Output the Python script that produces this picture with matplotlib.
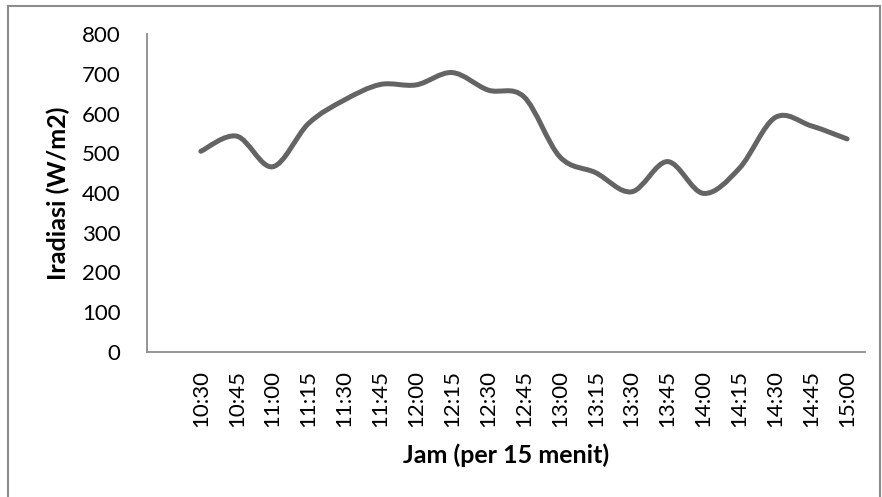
import numpy as np
import matplotlib
matplotlib.use('Agg')
import matplotlib.pyplot as plt
from matplotlib.path import Path
from matplotlib.patches import PathPatch
from matplotlib.lines import Line2D

jam = ['10:30', '10:45', '11:00', '11:15', '11:30', '11:45', '12:00',
       '12:15', '12:30', '12:45', '13:00', '13:15', '13:30', '13:45',
       '14:00', '14:15', '14:30', '14:45', '15:00']
iradiasi = [505, 543, 466, 575, 634, 673, 672, 703, 659, 642, 491,
            451, 403, 479, 399, 462, 590, 569, 536]


def smooth_path(x, y):
    # bezier smoothing like excel's "smoothed line"
    p = np.column_stack([x, y]).astype(float)
    pp = np.vstack([p[0], p, p[-1]])
    verts = [p[0]]
    codes = [Path.MOVETO]
    for i in range(len(p) - 1):
        c1 = pp[i + 1] + (pp[i + 2] - pp[i]) / 6
        c2 = pp[i + 2] - (pp[i + 3] - pp[i + 1]) / 6
        verts += [c1, c2, pp[i + 2]]
        codes += [Path.CURVE4] * 3
    return Path(verts, codes)


if __name__ == "__main__":
    plt.rcParams['font.family'] = 'Lato'
    gray = '#8c8c8c'

    fig = plt.figure(figsize=(8.82, 4.97), dpi=100)
    ax = fig.add_axes([147/882, 145/497, 718/882, 318/497])

    x = np.arange(1, len(jam) + 1)
    ax.add_patch(PathPatch(smooth_path(x, iradiasi), fill=False,
                           edgecolor='#646464', lw=3.6,
                           capstyle='round', joinstyle='round'))

    ax.set_xlim(-0.5, len(jam) + 0.5)
    ax.set_ylim(0, 800)
    ax.set_yticks(np.arange(0, 801, 100))
    ax.set_xticks(x)
    ax.set_xticklabels(jam, rotation=90)
    ax.tick_params(length=0, labelsize=16, colors='black')
    ax.tick_params(axis='y', pad=19)
    ax.tick_params(axis='x', pad=13)
    for s in ['top', 'right']:
        ax.spines[s].set_visible(False)
    for s in ['left', 'bottom']:
        ax.spines[s].set_color(gray)
        ax.spines[s].set_linewidth(1.3)

    ax.set_ylabel('Iradiasi (W/m2)', fontsize=18, fontweight='bold', va='center')
    ax.set_xlabel('Jam (per 15 menit)', fontsize=18, fontweight='bold', va='center')
    ax.yaxis.set_label_coords(-89/718, 0.5)
    ax.xaxis.set_label_coords(0.5, -103/318)

    # border of the chart area
    fig.add_artist(Line2D([7.5/882, 7.5/882], [0, 491.5/497], color=gray,
                          lw=1.5, transform=fig.transFigure))
    fig.add_artist(Line2D([7.5/882, 880/882], [491.5/497, 491.5/497], color=gray,
                          lw=1.5, transform=fig.transFigure))
    fig.add_artist(Line2D([880/882, 880/882], [0, 491.5/497], color=gray,
                          lw=1.5, transform=fig.transFigure))

    fig.savefig('out.png', dpi=100)
